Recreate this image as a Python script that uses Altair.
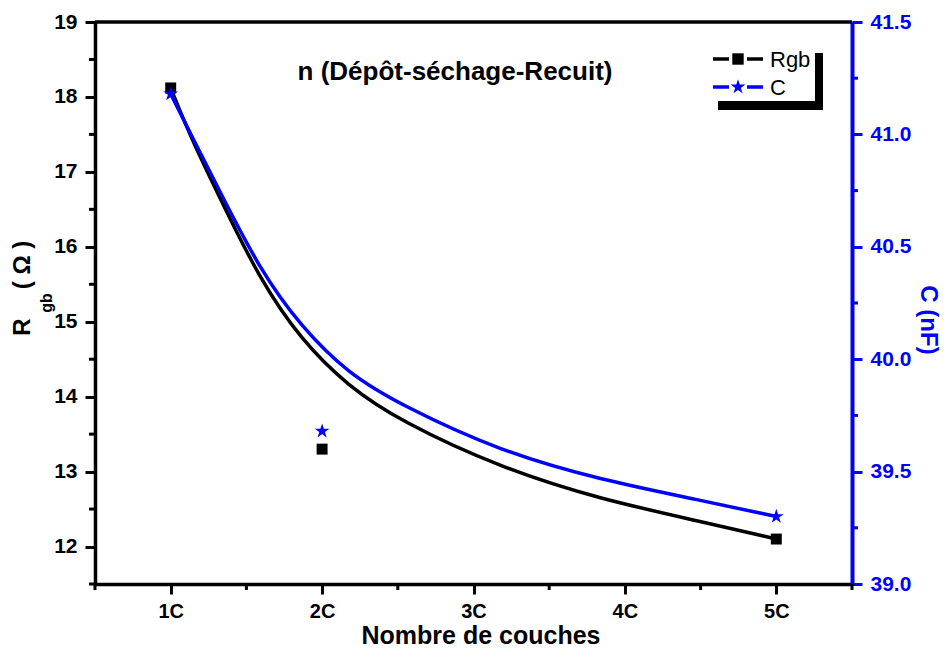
import altair as alt
import pandas as pd

# ---- data ----
categories = ["1C", "2C", "5C"]
x_pos = [1, 2, 5]
rgb_vals = [18.12, 13.30, 12.10]
c_vals = [41.18, 39.68, 39.30]

fit_x = [1.0, 1.13, 1.33, 1.59, 1.86, 2.17, 2.52, 3.18, 3.84, 4.49, 5.0]
rgb_fit = [18.12, 17.47, 16.63, 15.56, 14.76, 14.14, 13.67, 13.05, 12.63, 12.34, 12.10]
c_fit = [41.18, 41.005, 40.738, 40.397, 40.145, 39.937, 39.796, 39.589, 39.463, 39.374, 39.30]

x_ticks = [1, 2, 3, 4, 5]
x_minor = [0.5, 1.5, 2.5, 3.5, 4.5, 5.5]
rgb_ticks = [12, 13, 14, 15, 16, 17, 18, 19]
rgb_minor = [11.5, 12.5, 13.5, 14.5, 15.5, 16.5, 17.5, 18.5]
c_ticks = [39.0, 39.5, 40.0, 40.5, 41.0, 41.5]
c_minor = [39.25, 39.75, 40.25, 40.75, 41.25]

BLUE = "#0000ff"
FONT = "Liberation Sans"
W, H = 757, 562
NB = "\u00a0"

pts = pd.DataFrame({"x": x_pos, "cat": categories, "Rgb": rgb_vals, "C": c_vals})
fit = pd.DataFrame({"x": fit_x, "Rgb": rgb_fit, "C": c_fit})
xm = pd.DataFrame({"x": x_minor})
rm = pd.DataFrame({"Rgb": rgb_minor})
cm = pd.DataFrame({"C": c_minor})
one = pd.DataFrame({"a": [0]})

xscale = alt.Scale(domain=[0.5, 5.5], nice=False, zero=False)
lscale = alt.Scale(domain=[11.5, 19], nice=False, zero=False)
rscale = alt.Scale(domain=[39.0, 41.5], nice=False, zero=False)

xaxis = alt.Axis(values=x_ticks, labelExpr="datum.value + 'C'", title=None,
                 tickSize=10, tickWidth=3, domainWidth=3.5, domainColor="black", tickColor="black",
                 labelFontSize=20, labelFontWeight="bold", labelColor="black", labelPadding=7,
                 grid=False, labelFont=FONT)
laxis = alt.Axis(values=rgb_ticks, title=None, tickSize=10, tickWidth=3, domainWidth=3.5,
                 domainColor="black", tickColor="black", labelFontSize=21, labelFontWeight="bold",
                 labelColor="black", labelPadding=8, grid=False, labelFont=FONT)
raxis = alt.Axis(values=c_ticks, format=".1f", orient="right", title=None,
                 tickSize=10, tickWidth=3, domainWidth=4, domainColor=BLUE, tickColor=BLUE,
                 labelFontSize=21, labelFontWeight="bold", labelColor=BLUE, labelPadding=8,
                 grid=False, labelFont=FONT)

X = alt.X("x:Q", scale=xscale, axis=xaxis)
YL = alt.Y("Rgb:Q", scale=lscale, axis=laxis)
YR = alt.Y("C:Q", scale=rscale, axis=raxis)

rgb_line = alt.Chart(fit).mark_line(color="black", strokeWidth=3.5, interpolate="basis").encode(
    x=X, y=YL)
rgb_pts = alt.Chart(pts).mark_point(shape="square", filled=True, color="black", size=120, opacity=1).encode(
    x=X, y=YL)
rgb_minor_ticks = alt.Chart(rm).mark_rule(color="black", strokeWidth=3).encode(
    y=YL, x=alt.value(-6), x2=alt.value(0))
x_minor_ticks = alt.Chart(xm).mark_rule(color="black", strokeWidth=3).encode(
    x=X, y=alt.value(H), y2=alt.value(H + 6))
top_border = alt.Chart(one).mark_rule(color="black", strokeWidth=3.5).encode(
    x=alt.value(0), x2=alt.value(W), y=alt.value(0))

star = ("M0,-1 L0.2245,-0.309 L0.951,-0.309 L0.363,0.118 L0.588,0.809 L0,0.382 "
        "L-0.588,0.809 L-0.363,0.118 L-0.951,-0.309 L-0.2245,-0.309 Z")

# legend (drawn by hand, Origin style)
legend_parts = [
    alt.Chart(one).mark_rect(color="black").encode(
        x=alt.value(720), x2=alt.value(728), y=alt.value(31), y2=alt.value(88)),
    alt.Chart(one).mark_rect(color="black").encode(
        x=alt.value(623), x2=alt.value(728), y=alt.value(79), y2=alt.value(88)),
    alt.Chart(one).mark_rule(color="black", strokeWidth=3.5).encode(
        x=alt.value(618), x2=alt.value(634), y=alt.value(37)),
    alt.Chart(one).mark_rule(color="black", strokeWidth=3.5).encode(
        x=alt.value(652), x2=alt.value(668), y=alt.value(37)),
    alt.Chart(one).mark_point(shape="square", filled=True, color="black", size=130, opacity=1).encode(
        x=alt.value(643), y=alt.value(37)),
    alt.Chart(one).mark_rule(color=BLUE, strokeWidth=3.5).encode(
        x=alt.value(618), x2=alt.value(634), y=alt.value(65)),
    alt.Chart(one).mark_rule(color=BLUE, strokeWidth=3.5).encode(
        x=alt.value(652), x2=alt.value(668), y=alt.value(65)),
    alt.Chart(one).mark_point(shape=star, filled=True, color=BLUE, size=240, opacity=1).encode(
        x=alt.value(643), y=alt.value(65)),
    alt.Chart(one).mark_text(text="Rgb", font=FONT, fontSize=22, align="left", baseline="middle").encode(
        x=alt.value(675), y=alt.value(38)),
    alt.Chart(one).mark_text(text="C", font=FONT, fontSize=22, align="left", baseline="middle").encode(
        x=alt.value(675), y=alt.value(66)),
]

texts = [
    alt.Chart(one).mark_text(text="n (Dépôt-séchage-Recuit)", font=FONT, fontSize=26,
                             fontWeight="bold", align="center", baseline="middle").encode(
        x=alt.value(360), y=alt.value(50)),
    alt.Chart(one).mark_text(text="Nombre de couches", font=FONT, fontSize=25,
                             fontWeight="bold", align="center", baseline="middle").encode(
        x=alt.value(386), y=alt.value(614)),
    alt.Chart(one).mark_text(text="C (nF)", font=FONT, fontSize=24, fontWeight="bold", angle=90,
                             color=BLUE, align="center", baseline="middle").encode(
        x=alt.value(833), y=alt.value(298)),
    alt.Chart(one).mark_text(text="R", font=FONT, fontSize=24, fontWeight="bold", angle=270,
                             align="center", baseline="middle").encode(x=alt.value(-72), y=alt.value(305)),
    alt.Chart(one).mark_text(text="gb", font=FONT, fontSize=16, fontWeight="bold", angle=270,
                             align="center", baseline="middle").encode(x=alt.value(-48), y=alt.value(281)),
    alt.Chart(one).mark_text(text="(" + NB + "Ω" + NB + ")", font=FONT, fontSize=24, fontWeight="bold",
                             angle=270, align="center", baseline="middle").encode(
        x=alt.value(-72), y=alt.value(243)),
]

left = alt.layer(rgb_line, rgb_pts, rgb_minor_ticks, x_minor_ticks, top_border,
                 *legend_parts, *texts)

c_line = alt.Chart(fit).mark_line(color=BLUE, strokeWidth=3.5, interpolate="basis").encode(
    x=X, y=YR)
c_pts = alt.Chart(pts).mark_point(shape=star, filled=True, color=BLUE, size=240, opacity=1).encode(
    x=X, y=YR)
c_minor_ticks = alt.Chart(cm).mark_rule(color=BLUE, strokeWidth=3).encode(
    y=YR, x=alt.value(W), x2=alt.value(W + 6))

right = alt.layer(c_line, c_pts, c_minor_ticks)

chart = alt.layer(left, right).resolve_scale(y="independent").properties(
    width=W, height=H,
    autosize=alt.AutoSizeParams(type="none"),
    padding={"left": 87, "top": 14, "right": 92, "bottom": 65},
).configure_view(stroke=None).configure(font=FONT)

chart.save("out.html", embed_options={"renderer": "svg", "actions": False})
